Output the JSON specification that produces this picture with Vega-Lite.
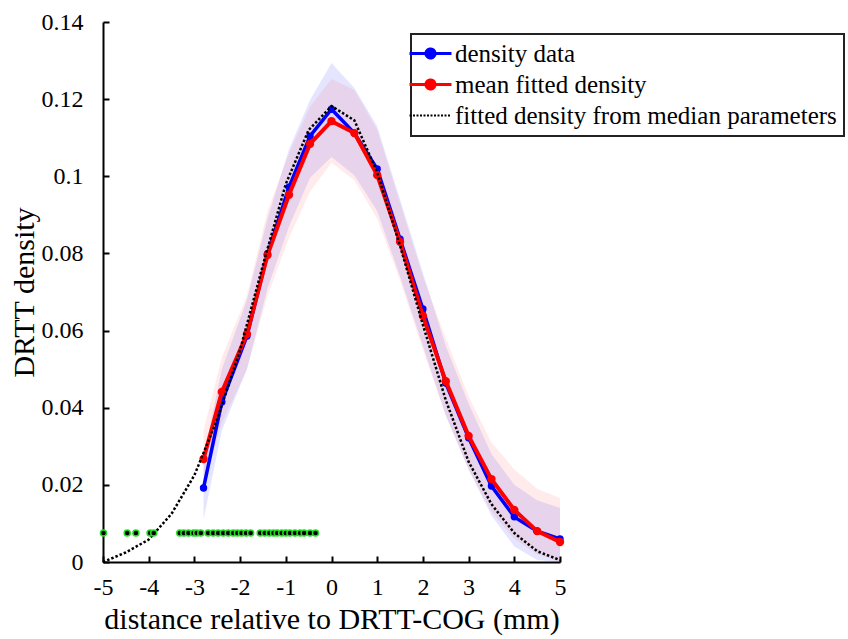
{
  "$schema": "https://vega.github.io/schema/vega-lite/v6.json",
  "autosize": {"type": "none"},
  "width": 457,
  "height": 540,
  "padding": {"left": 103, "top": 22, "right": 288, "bottom": 77},
  "background": "white",
  "config": {
    "view": {"stroke": null},
    "font": "Liberation Serif",
    "axis": {
      "domainColor": "black", "domainWidth": 2, "tickColor": "black", "tickWidth": 2,
      "labelFont": "Liberation Serif", "labelFontSize": 24, "labelColor": "black",
      "titleFont": "Liberation Serif", "titleFontSize": 30, "titleFontWeight": "normal", "titleColor": "black",
      "grid": false, "labelFlush": false
    }
  },
  "datasets": {
    "curves": [
      {"x": -2.8, "series": "density data", "y": 0.0192},
      {"x": -2.4, "series": "density data", "y": 0.0415},
      {"x": -1.85, "series": "density data", "y": 0.0586},
      {"x": -1.4, "series": "density data", "y": 0.0799},
      {"x": -0.93, "series": "density data", "y": 0.0972},
      {"x": -0.47, "series": "density data", "y": 0.1104},
      {"x": 0, "series": "density data", "y": 0.1174},
      {"x": 0.5, "series": "density data", "y": 0.1112},
      {"x": 1, "series": "density data", "y": 0.1019},
      {"x": 1.5, "series": "density data", "y": 0.0837},
      {"x": 2, "series": "density data", "y": 0.0656},
      {"x": 2.5, "series": "density data", "y": 0.0464},
      {"x": 3, "series": "density data", "y": 0.0322},
      {"x": 3.5, "series": "density data", "y": 0.0197},
      {"x": 4, "series": "density data", "y": 0.0117},
      {"x": 4.5, "series": "density data", "y": 0.0080},
      {"x": 5, "series": "density data", "y": 0.0060},
      {"x": -2.8, "series": "mean fitted density", "y": 0.0267},
      {"x": -2.4, "series": "mean fitted density", "y": 0.0441},
      {"x": -1.85, "series": "mean fitted density", "y": 0.0591},
      {"x": -1.4, "series": "mean fitted density", "y": 0.0796},
      {"x": -0.93, "series": "mean fitted density", "y": 0.0952},
      {"x": -0.47, "series": "mean fitted density", "y": 0.1084},
      {"x": 0, "series": "mean fitted density", "y": 0.1143},
      {"x": 0.5, "series": "mean fitted density", "y": 0.1112},
      {"x": 1, "series": "mean fitted density", "y": 0.1003},
      {"x": 1.5, "series": "mean fitted density", "y": 0.0830},
      {"x": 2, "series": "mean fitted density", "y": 0.0638},
      {"x": 2.5, "series": "mean fitted density", "y": 0.0469},
      {"x": 3, "series": "mean fitted density", "y": 0.0327},
      {"x": 3.5, "series": "mean fitted density", "y": 0.0215},
      {"x": 4, "series": "mean fitted density", "y": 0.0135},
      {"x": 4.5, "series": "mean fitted density", "y": 0.0080},
      {"x": 5, "series": "mean fitted density", "y": 0.0052},
      {"x": -5, "series": "fitted density from median parameters", "y": 0.0},
      {"x": -4.5, "series": "fitted density from median parameters", "y": 0.0025},
      {"x": -4, "series": "fitted density from median parameters", "y": 0.0058},
      {"x": -3.5, "series": "fitted density from median parameters", "y": 0.0125},
      {"x": -3, "series": "fitted density from median parameters", "y": 0.0225},
      {"x": -2.5, "series": "fitted density from median parameters", "y": 0.037},
      {"x": -2, "series": "fitted density from median parameters", "y": 0.055},
      {"x": -1.5, "series": "fitted density from median parameters", "y": 0.077},
      {"x": -1, "series": "fitted density from median parameters", "y": 0.098},
      {"x": -0.5, "series": "fitted density from median parameters", "y": 0.112},
      {"x": 0, "series": "fitted density from median parameters", "y": 0.1182},
      {"x": 0.5, "series": "fitted density from median parameters", "y": 0.1145},
      {"x": 1, "series": "fitted density from median parameters", "y": 0.101},
      {"x": 1.5, "series": "fitted density from median parameters", "y": 0.082},
      {"x": 2, "series": "fitted density from median parameters", "y": 0.0615},
      {"x": 2.5, "series": "fitted density from median parameters", "y": 0.042},
      {"x": 3, "series": "fitted density from median parameters", "y": 0.026},
      {"x": 3.5, "series": "fitted density from median parameters", "y": 0.015},
      {"x": 4, "series": "fitted density from median parameters", "y": 0.0075},
      {"x": 4.5, "series": "fitted density from median parameters", "y": 0.0028},
      {"x": 5, "series": "fitted density from median parameters", "y": 0.0005}
    ],
    "bands": [
      {"x": -2.8, "band": "blue", "lo": 0.011, "hi": 0.027},
      {"x": -2.4, "band": "blue", "lo": 0.034, "hi": 0.050},
      {"x": -1.85, "band": "blue", "lo": 0.050, "hi": 0.068},
      {"x": -1.4, "band": "blue", "lo": 0.071, "hi": 0.089},
      {"x": -0.93, "band": "blue", "lo": 0.087, "hi": 0.107},
      {"x": -0.47, "band": "blue", "lo": 0.0996, "hi": 0.1198},
      {"x": 0, "band": "blue", "lo": 0.105, "hi": 0.1294},
      {"x": 0.5, "band": "blue", "lo": 0.1003, "hi": 0.1229},
      {"x": 1, "band": "blue", "lo": 0.091, "hi": 0.113},
      {"x": 1.5, "band": "blue", "lo": 0.074, "hi": 0.094},
      {"x": 2, "band": "blue", "lo": 0.056, "hi": 0.075},
      {"x": 2.5, "band": "blue", "lo": 0.038, "hi": 0.056},
      {"x": 3, "band": "blue", "lo": 0.024, "hi": 0.041},
      {"x": 3.5, "band": "blue", "lo": 0.012, "hi": 0.028},
      {"x": 4, "band": "blue", "lo": 0.004, "hi": 0.020},
      {"x": 4.5, "band": "blue", "lo": 0.0005, "hi": 0.016},
      {"x": 5, "band": "blue", "lo": 0.0, "hi": 0.014},
      {"x": -2.8, "band": "red", "lo": 0.020, "hi": 0.034},
      {"x": -2.4, "band": "red", "lo": 0.036, "hi": 0.053},
      {"x": -1.85, "band": "red", "lo": 0.050, "hi": 0.069},
      {"x": -1.4, "band": "red", "lo": 0.069, "hi": 0.091},
      {"x": -0.93, "band": "red", "lo": 0.084, "hi": 0.106},
      {"x": -0.47, "band": "red", "lo": 0.096, "hi": 0.118},
      {"x": 0, "band": "red", "lo": 0.1035, "hi": 0.1252},
      {"x": 0.5, "band": "red", "lo": 0.099, "hi": 0.1224},
      {"x": 1, "band": "red", "lo": 0.089, "hi": 0.112},
      {"x": 1.5, "band": "red", "lo": 0.073, "hi": 0.093},
      {"x": 2, "band": "red", "lo": 0.055, "hi": 0.074},
      {"x": 2.5, "band": "red", "lo": 0.038, "hi": 0.058},
      {"x": 3, "band": "red", "lo": 0.024, "hi": 0.043},
      {"x": 3.5, "band": "red", "lo": 0.013, "hi": 0.031},
      {"x": 4, "band": "red", "lo": 0.006, "hi": 0.024},
      {"x": 4.5, "band": "red", "lo": 0.002, "hi": 0.019},
      {"x": 5, "band": "red", "lo": 0.0, "hi": 0.0166}
    ],
    "obs": [
      {"x": -4.99, "y": 0.0075}, {"x": -4.47, "y": 0.0075}, {"x": -4.28, "y": 0.0075},
      {"x": -3.97, "y": 0.0075}, {"x": -3.89, "y": 0.0075},
      {"x": -3.32, "y": 0.0075}, {"x": -3.23, "y": 0.0075}, {"x": -3.13, "y": 0.0075},
      {"x": -3.02, "y": 0.0075}, {"x": -2.95, "y": 0.0075}, {"x": -2.86, "y": 0.0075},
      {"x": -2.70, "y": 0.0075}, {"x": -2.59, "y": 0.0075}, {"x": -2.48, "y": 0.0075},
      {"x": -2.37, "y": 0.0075}, {"x": -2.26, "y": 0.0075}, {"x": -2.15, "y": 0.0075},
      {"x": -2.06, "y": 0.0075}, {"x": -1.97, "y": 0.0075}, {"x": -1.87, "y": 0.0075},
      {"x": -1.77, "y": 0.0075}, {"x": -1.56, "y": 0.0075}, {"x": -1.46, "y": 0.0075},
      {"x": -1.36, "y": 0.0075}, {"x": -1.27, "y": 0.0075}, {"x": -1.19, "y": 0.0075},
      {"x": -1.09, "y": 0.0075}, {"x": -1.00, "y": 0.0075}, {"x": -0.91, "y": 0.0075},
      {"x": -0.80, "y": 0.0075}, {"x": -0.69, "y": 0.0075}, {"x": -0.60, "y": 0.0075},
      {"x": -0.47, "y": 0.0075}, {"x": -0.35, "y": 0.0075}
    ]
  },
  "layer": [
    {
      "data": {"name": "bands"},
      "transform": [{"filter": "datum.band === 'blue'"}],
      "mark": {"type": "area", "color": "#0000ff", "opacity": 0.1},
      "encoding": {
        "x": {"field": "x", "type": "quantitative", "scale": {"domain": [-5, 5], "nice": false},
          "axis": {"values": [-5, -4, -3, -2, -1, 0, 1, 2, 3, 4, 5], "tickSize": -6, "labelPadding": 19, "labelExpr": "'' + datum.value", "title": "distance relative to DRTT-COG (mm)", "titlePadding": 5}},
        "y": {"field": "lo", "type": "quantitative", "scale": {"domain": [0, 0.14], "nice": false},
          "axis": {"values": [0, 0.02, 0.04, 0.06, 0.08, 0.1, 0.12, 0.14], "tickSize": -6, "labelPadding": 26, "labelExpr": "'' + datum.value", "title": "DRTT density", "titlePadding": 2}},
        "y2": {"field": "hi"}
      }
    },
    {
      "data": {"name": "bands"},
      "transform": [{"filter": "datum.band === 'red'"}],
      "mark": {"type": "area", "color": "#ff0000", "opacity": 0.08},
      "encoding": {
        "x": {"field": "x", "type": "quantitative"},
        "y": {"field": "lo", "type": "quantitative"},
        "y2": {"field": "hi"}
      }
    },
    {
      "data": {"name": "curves"},
      "transform": [{"filter": "datum.series === 'density data'"}],
      "mark": {"type": "line", "strokeWidth": 3.5, "point": {"filled": true, "size": 55}},
      "encoding": {
        "x": {"field": "x", "type": "quantitative"},
        "y": {"field": "y", "type": "quantitative"},
        "color": {"field": "series", "type": "nominal",
          "scale": {"domain": ["density data", "mean fitted density", "fitted density from median parameters"], "range": ["#0000ff", "#ff0000", "#000000"]},
          "legend": {
            "title": null, "orient": "none", "legendX": 308, "legendY": 12,
            "fillColor": "white", "strokeColor": "#222222", "padding": 7,
            "labelFont": "Liberation Serif", "labelFontSize": 25, "labelColor": "black", "labelLimit": 0,
            "labelOffset": 12, "rowPadding": 5, "symbolSize": 441,
            "symbolType": "M-2,0H2M0.43,0A0.43,0.43,0,1,1,-0.43,0A0.43,0.43,0,1,1,0.43,0Z",
            "symbolStrokeWidth": 3,
            "encode": {
              "legend": {"update": {"strokeWidth": {"value": 2}}},
              "symbols": {"update": {
                "shape": {"signal": "datum.value === 'fitted density from median parameters' ? 'M-2,0H2' : 'M-2,0H2M0.43,0A0.43,0.43,0,1,1,-0.43,0A0.43,0.43,0,1,1,0.43,0Z'"},
                "fill": {"signal": "datum.value === 'fitted density from median parameters' ? 'transparent' : scale('color', datum.value)"},
                "stroke": {"signal": "scale('color', datum.value)"},
                "strokeDash": {"signal": "datum.value === 'fitted density from median parameters' ? [2, 1.5] : [1, 0]"},
                "strokeWidth": {"signal": "datum.value === 'fitted density from median parameters' ? 2 : 3"},
                "opacity": {"value": 1}
              }}
            }
          }
        }
      }
    },
    {
      "data": {"name": "curves"},
      "transform": [{"filter": "datum.series === 'mean fitted density'"}],
      "mark": {"type": "line", "strokeWidth": 4, "point": {"filled": true, "size": 70}},
      "encoding": {
        "x": {"field": "x", "type": "quantitative"},
        "y": {"field": "y", "type": "quantitative"},
        "color": {"field": "series", "type": "nominal"}
      }
    },
    {
      "data": {"name": "curves"},
      "transform": [{"filter": "datum.series === 'fitted density from median parameters'"}],
      "mark": {"type": "line", "strokeWidth": 2.5, "strokeDash": [2.5, 2]},
      "encoding": {
        "x": {"field": "x", "type": "quantitative"},
        "y": {"field": "y", "type": "quantitative"},
        "color": {"field": "series", "type": "nominal"}
      }
    },
    {
      "data": {"name": "obs"},
      "mark": {"type": "point", "filled": true, "fill": "black", "stroke": "#22dd22", "strokeWidth": 1.5, "size": 36, "opacity": 1},
      "encoding": {
        "x": {"field": "x", "type": "quantitative"},
        "y": {"field": "y", "type": "quantitative"}
      }
    }
  ]
}
